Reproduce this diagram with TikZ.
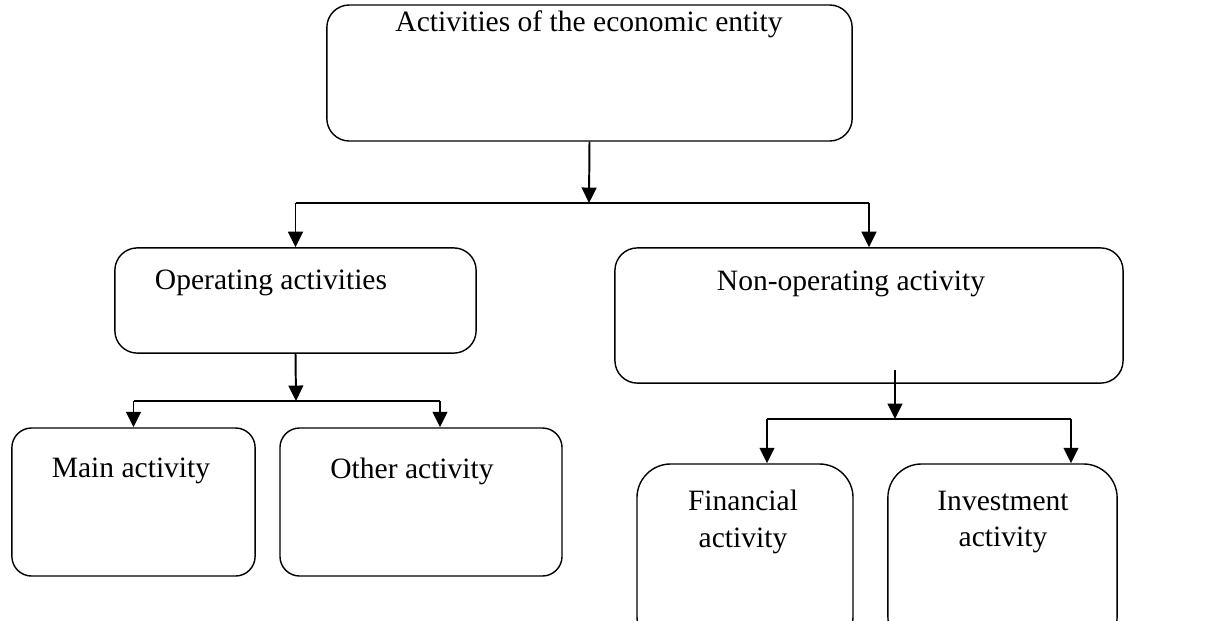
\documentclass[tikz,border=0pt]{standalone}
\usepackage{fontspec}
\setmainfont{Liberation Serif}
\usepackage{tikz}
\usetikzlibrary{arrows.meta,calc,positioning}

\begin{document}
\begin{tikzpicture}[
  x=0.025cm,y=-0.025cm,
  box/.style={draw,line width=1pt,rounded corners=16pt,inner sep=0pt},
  txt/.style={font=\fontsize{21}{26}\selectfont,align=center,inner sep=0pt},
  link/.style={line width=1.4pt},
  arr/.style={link,-{Triangle[length=11pt,width=10.5pt]}}
]
\useasboundingbox (0,0) rectangle (1210,620);
\clip (0,0) rectangle (1210,620);
% boxes
\node[box,minimum width=13.13cm,minimum height=3.4cm] (entity) at (589.5,73) {};
\node[box,minimum width=9.03cm,minimum height=2.63cm] (oper) at (295.5,300.5) {};
\node[box,minimum width=12.7cm,minimum height=3.38cm] (nonop) at (869,315.5) {};
\node[box,rounded corners=14pt,minimum width=6.08cm,minimum height=3.7cm] (main) at (133.5,502) {};
\node[box,rounded corners=14pt,minimum width=7.05cm,minimum height=3.7cm] (other) at (421,502) {};
\node[box,rounded corners=24pt,minimum width=5.4cm,minimum height=4.65cm] (fin) at (745,557) {};
\node[box,rounded corners=24pt,minimum width=5.73cm,minimum height=4.65cm] (inv) at (1002.5,557) {};
% texts
\node[txt] (tentity) at (589,24) {Activities of the economic entity};
\node[txt] (toper) at (271,283) {Operating activities};
\node[txt] (tnonop) at (851,284) {Non-operating activity};
\node[txt] (tmain) at (131,471) {Main activity};
\node[txt] (tother) at (412,471) {Other activity};
\node[txt] (tfin) at (743,522) {Financial\\activity};
\node[txt] (tinv) at (1003,522) {Investment\\activity};
% forks
\coordinate (forkA) at (589,203);
\coordinate (forkB) at (296,401);
\coordinate (forkC) at (895,419);
\coordinate (startC) at (895,370);
\coordinate (otherin) at (440,401);
\coordinate (finin) at (767,419);
\coordinate (invin) at (1071,419);
% connectors
\draw[arr] (entity.south) -- (forkA);
\draw[link] (forkA -| oper.north) -- (forkA -| nonop.north);
\draw[arr] (forkA -| oper.north) -- (oper.north);
\draw[arr] (forkA -| nonop.north) -- (nonop.north);
\draw[arr] (oper.south) -- (forkB);
\draw[link] (forkB -| main.north) -- (otherin);
\draw[arr] (forkB -| main.north) -- (main.north);
\draw[arr] (otherin) -- (otherin |- other.north);
\draw[arr] (startC) -- (forkC);
\draw[link] (finin) -- (invin);
\draw[arr] (finin) -- (finin |- fin.north);
\draw[arr] (invin) -- (invin |- inv.north);
\end{tikzpicture}
\end{document}
